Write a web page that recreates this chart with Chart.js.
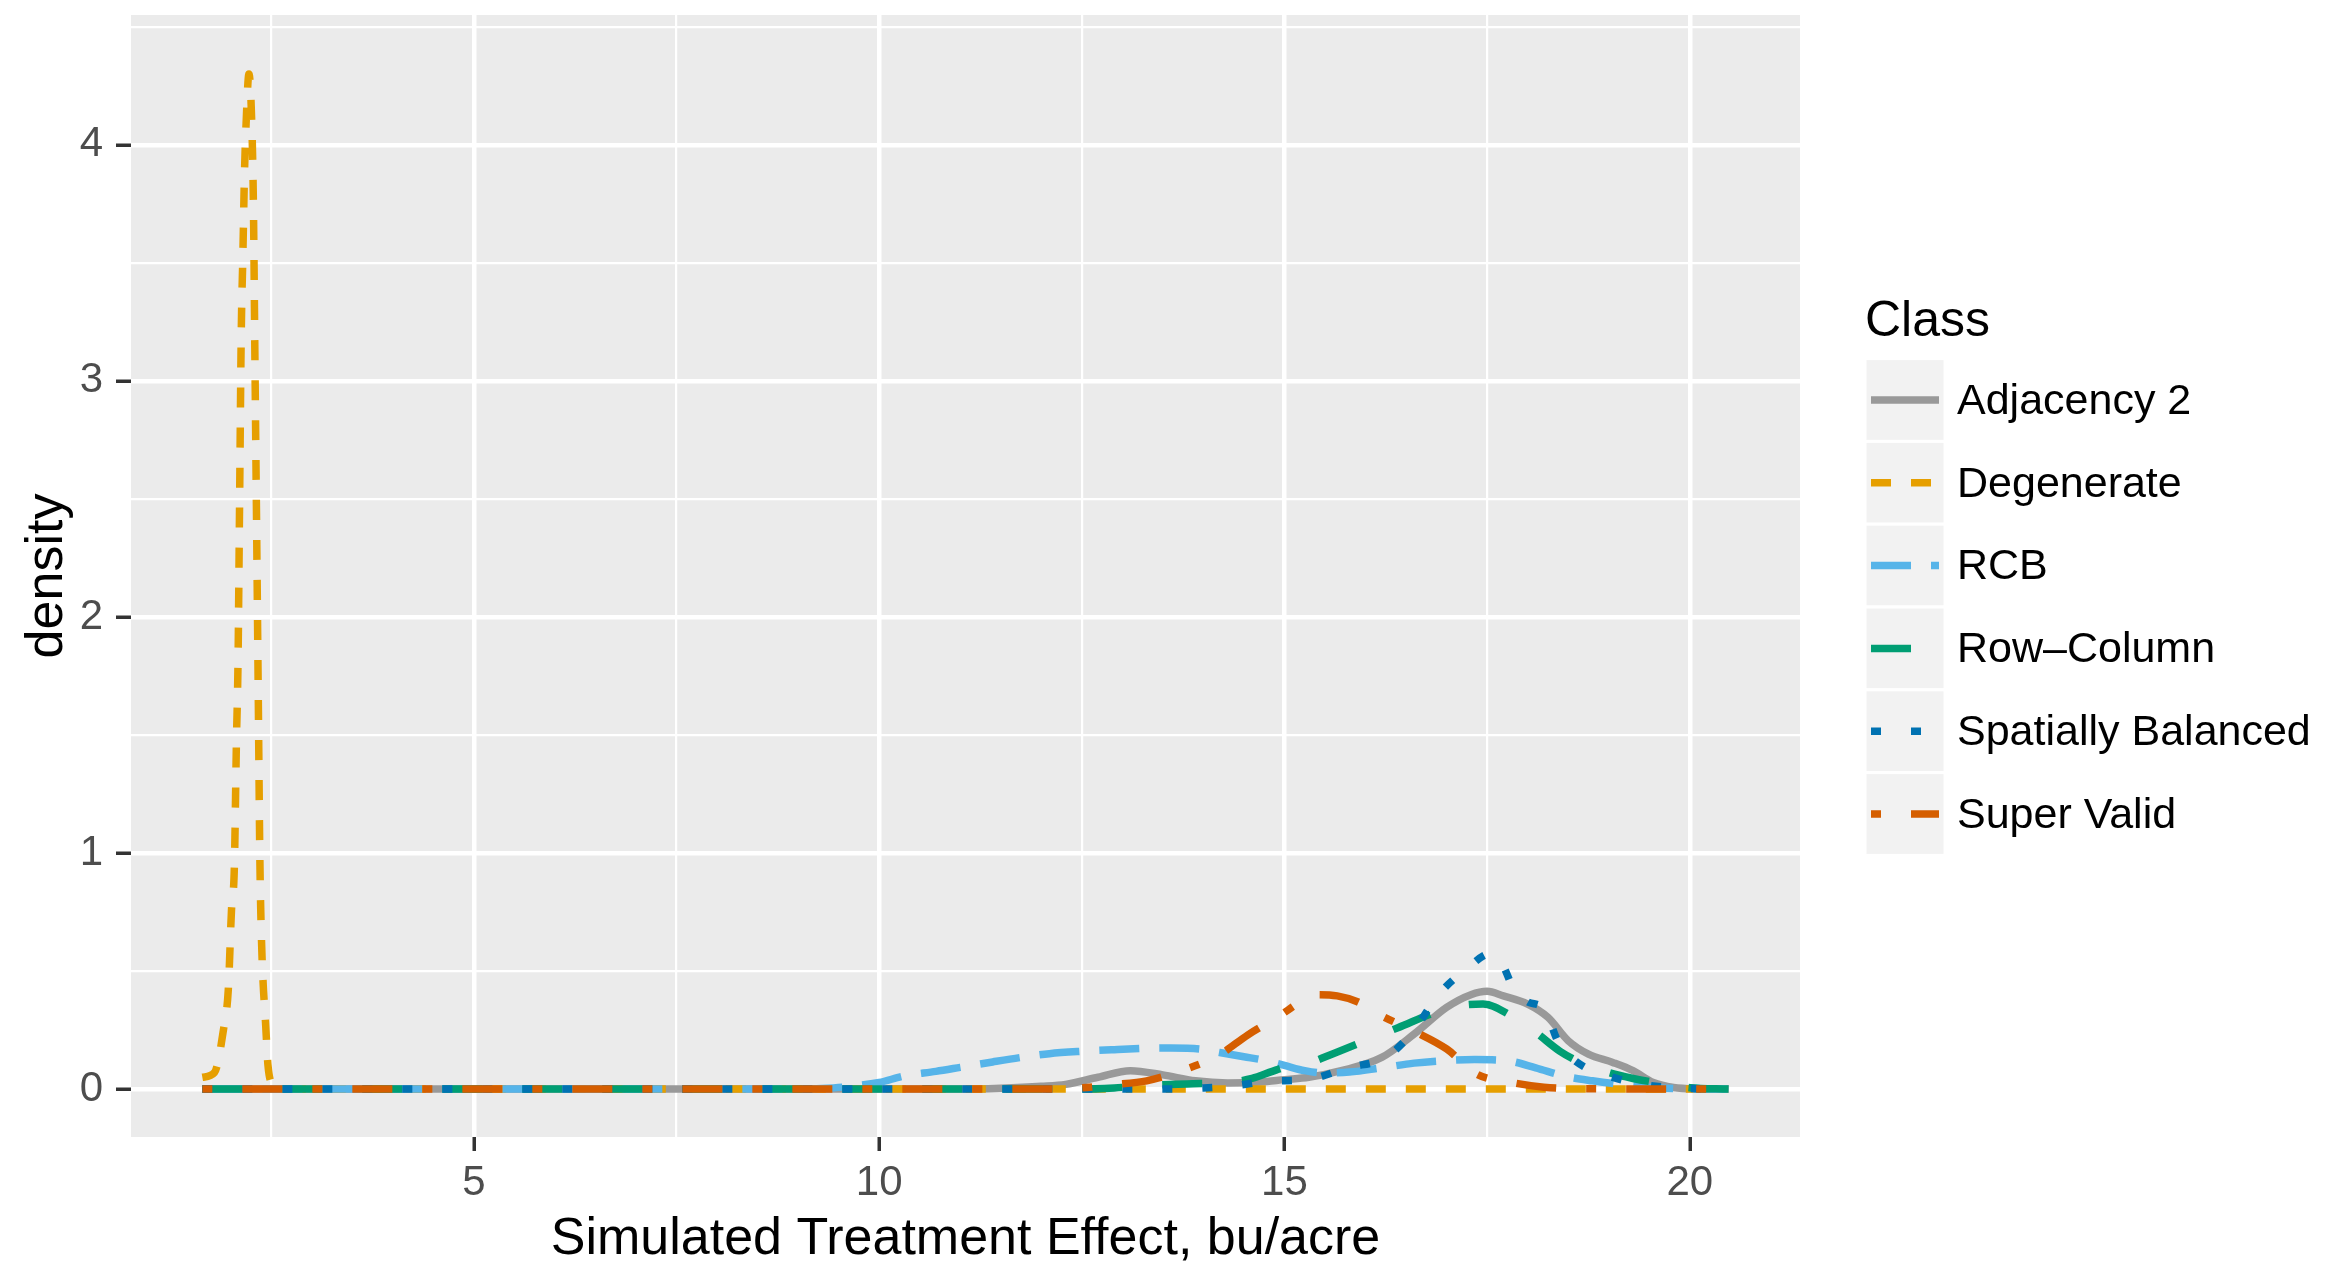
<!DOCTYPE html>
<html>
<head>
<meta charset="utf-8">
<script src="https://cdn.jsdelivr.net/npm/chart.js@4.4.1/dist/chart.umd.min.js"></script>
<style>
  html, body { margin: 0; padding: 0; background: #fff; }
  #wrap { width: 2336px; height: 1262px; }
</style>
</head>
<body>
<div id="wrap"><canvas id="chartDensity" width="2336" height="1262"></canvas></div>
<script>
// series (x = treatment effect, y = density)
const classes = ['Adjacency 2', 'Degenerate', 'RCB', 'Row\u2013Column', 'Spatially Balanced', 'Super Valid'];
const colors = ['#999999', '#E69F00', '#56B4E9', '#009E73', '#0072B2', '#D55E00'];
const dashes = [[], [20, 20], [40, 20], [40, 40], [10, 30], [10, 30, 40, 30]];

const adjX = [1.65, 11.0, 11.5, 12.0, 12.3, 12.7, 13.1, 13.5, 13.9, 14.3, 14.7, 15.0, 15.3, 15.7, 16.2, 16.6, 17.0, 17.3, 17.5, 17.7, 18.0, 18.25, 18.5, 18.75, 19.05, 19.3, 19.55, 19.8, 20.1, 20.48];
const adjY = [0, 0, 0.004, 0.012, 0.02, 0.05, 0.078, 0.06, 0.035, 0.026, 0.03, 0.04, 0.05, 0.078, 0.134, 0.233, 0.346, 0.40, 0.414, 0.395, 0.36, 0.304, 0.205, 0.148, 0.113, 0.078, 0.028, 0.007, 0.001, 0];

const degX = [1.65, 1.8, 1.91, 1.97, 2.01, 2.045, 2.07, 2.09, 2.11, 2.13, 2.15, 2.17, 2.19, 2.225, 2.26, 2.28, 2.30, 2.32, 2.34, 2.36, 2.38, 2.40, 2.43, 2.46, 2.52, 2.65, 20.48];
const degY = [0.05, 0.07, 0.25, 0.42, 0.76, 0.94, 1.46, 1.8, 2.5, 3.2, 3.53, 3.88, 4.09, 4.3, 4.09, 3.75, 3.05, 2.37, 1.67, 0.97, 0.63, 0.45, 0.28, 0.10, 0.02, 0, 0];

const rcbX = [1.65, 9.0, 9.3, 9.6, 10.0, 10.3, 10.7, 11.0, 11.4, 11.75, 12.1, 12.5, 12.9, 13.25, 13.6, 13.95, 14.2, 14.5, 14.75, 15.0, 15.25, 15.5, 15.8, 16.2, 16.6, 16.95, 17.35, 17.75, 18.1, 18.45, 18.8, 19.2, 19.6, 20.0, 20.48];
const rcbY = [0, 0, 0.003, 0.01, 0.028, 0.055, 0.075, 0.092, 0.115, 0.134, 0.15, 0.16, 0.167, 0.172, 0.174, 0.17, 0.155, 0.137, 0.122, 0.10, 0.078, 0.068, 0.072, 0.09, 0.11, 0.12, 0.125, 0.12, 0.09, 0.055, 0.035, 0.018, 0.006, 0.001, 0];

const rcX = [1.65, 12.5, 12.9, 13.3, 13.8, 14.3, 14.6, 14.85, 15.0, 15.3, 15.6, 16.0, 16.4, 16.9, 17.2, 17.45, 17.8, 18.1, 18.4, 18.65, 19.0, 19.3, 19.65, 20.0, 20.48];
const rcY = [0, 0, 0.005, 0.015, 0.022, 0.028, 0.045, 0.075, 0.092, 0.11, 0.15, 0.205, 0.26, 0.33, 0.355, 0.36, 0.31, 0.24, 0.16, 0.113, 0.07, 0.045, 0.024, 0.006, 0];

const sbX = [1.65, 13.5, 14.0, 14.4, 14.8, 15.3, 15.8, 16.25, 16.6, 16.9, 17.25, 17.55, 17.7, 17.82, 18.0, 18.2, 18.39, 18.55, 18.75, 19.0, 19.2, 19.5, 19.9, 20.48];
const sbY = [0, 0, 0.005, 0.015, 0.033, 0.042, 0.092, 0.134, 0.25, 0.40, 0.51, 0.575, 0.52, 0.43, 0.37, 0.34, 0.19, 0.13, 0.085, 0.055, 0.035, 0.015, 0.004, 0];

const svX = [1.65, 12.2, 12.5, 12.87, 13.3, 13.75, 14.18, 14.55, 14.93, 15.2, 15.4, 15.65, 15.9, 16.2, 16.6, 17.0, 17.37, 17.8, 18.2, 18.6, 20.48];
const svY = [0, 0, 0.005, 0.018, 0.035, 0.08, 0.141, 0.23, 0.308, 0.37, 0.40, 0.395, 0.37, 0.31, 0.245, 0.17, 0.064, 0.028, 0.008, 0.002, 0];

const xTicks = [2.5, 5, 7.5, 10, 12.5, 15, 17.5, 20];
const yTicks = [0, 0.5, 1, 1.5, 2, 2.5, 3, 3.5, 4, 4.5];

const seriesX = [adjX, degX, rcbX, rcX, sbX, svX];
const seriesY = [adjY, degY, rcbY, rcY, sbY, svY];

const FONT = '"Liberation Sans", Arial, Helvetica, sans-serif';

const datasets = classes.map((name, i) => ({
  label: name,
  data: seriesX[i].map((x, j) => ({ x: x, y: seriesY[i][j] })),
  borderColor: colors[i],
  borderWidth: 7.5,
  borderDash: dashes[i],
  borderCapStyle: 'butt',
  pointRadius: 0,
  fill: false,
  cubicInterpolationMode: 'monotone',
  order: classes.length - 1 - i
}));

// grey panel like ggplot
const panelBg = {
  id: 'panelBg',
  beforeDraw(chart) {
    const { ctx, chartArea: a } = chart;
    ctx.save();
    ctx.fillStyle = '#ffffff';
    ctx.fillRect(0, 0, chart.width, chart.height);
    ctx.fillStyle = '#EBEBEB';
    ctx.fillRect(a.left, a.top, a.right - a.left, a.bottom - a.top);
    ctx.restore();
  }
};

// legend with grey key boxes
const keyLegend = {
  id: 'keyLegend',
  afterDraw(chart) {
    const ctx = chart.ctx;
    const x0 = 1865, keyW = 80, rowH = 82.8, firstY = 400;
    ctx.save();
    ctx.fillStyle = '#000';
    ctx.font = '50px ' + FONT;
    ctx.textBaseline = 'alphabetic';
    ctx.fillText('Class', x0, 336);
    chart.data.datasets.forEach((ds, i) => {
      const cy = firstY + i * rowH;
      ctx.fillStyle = '#F2F2F2';
      ctx.fillRect(x0, cy - rowH / 2, keyW, rowH);
      ctx.strokeStyle = '#ffffff';
      ctx.lineWidth = 3;
      ctx.setLineDash([]);
      ctx.strokeRect(x0, cy - rowH / 2, keyW, rowH);
      ctx.beginPath();
      ctx.strokeStyle = ds.borderColor;
      ctx.lineWidth = ds.borderWidth;
      ctx.lineCap = 'butt';
      ctx.setLineDash(ds.borderDash);
      ctx.moveTo(x0 + 6, cy);
      ctx.lineTo(x0 + keyW - 6, cy);
      ctx.stroke();
      ctx.setLineDash([]);
      ctx.fillStyle = '#000';
      ctx.font = '43px ' + FONT;
      ctx.textBaseline = 'middle';
      ctx.fillText(ds.label, x0 + 92, cy + 2);
    });
    ctx.restore();
  }
};

const isMajorX = v => v % 5 === 0;
const isMajorY = v => Number.isInteger(v);

new Chart(document.getElementById('chartDensity'), {
  type: 'line',
  data: { datasets: datasets },
  plugins: [panelBg, keyLegend],
  options: {
    responsive: false,
    animation: false,
    layout: { padding: { left: 0, top: 15, right: 536, bottom: 0 } },
    plugins: { legend: { display: false }, tooltip: { enabled: false } },
    scales: {
      x: {
        type: 'linear',
        min: 0.77,
        max: 21.36,
        afterBuildTicks: axis => { axis.ticks = xTicks.map(v => ({ value: v })); },
        afterFit: axis => {
          axis.height = 125;
          axis.paddingLeft = 0;
          axis.paddingRight = 0;
        },
        border: { display: false },
        grid: {
          color: '#ffffff',
          lineWidth: c => isMajorX(c.tick.value) ? 4.5 : 2.2,
          drawTicks: true,
          tickLength: 14,
          tickWidth: 3.5,
          tickColor: c => isMajorX(c.tick.value) ? '#333333' : 'rgba(0,0,0,0)'
        },
        ticks: {
          autoSkip: false,
          maxRotation: 0,
          padding: 7,
          color: '#4D4D4D',
          font: { family: FONT, size: 42 },
          callback: v => isMajorX(v) ? String(v) : ''
        },
        title: {
          display: true,
          text: 'Simulated Treatment Effect, bu/acre',
          color: '#000',
          font: { family: FONT, size: 52, lineHeight: 1 },
          padding: { top: 0, bottom: -4 }
        }
      },
      y: {
        type: 'linear',
        min: -0.203,
        max: 4.55,
        afterBuildTicks: axis => { axis.ticks = yTicks.map(v => ({ value: v })); },
        afterFit: axis => {
          axis.width = 131;
          axis.paddingTop = 0;
          axis.paddingBottom = 0;
        },
        border: { display: false },
        grid: {
          color: '#ffffff',
          lineWidth: c => isMajorY(c.tick.value) ? 4.5 : 2.2,
          drawTicks: true,
          tickLength: 15,
          tickWidth: 3.5,
          tickColor: c => isMajorY(c.tick.value) ? '#333333' : 'rgba(0,0,0,0)'
        },
        ticks: {
          autoSkip: false,
          padding: 13,
          color: '#4D4D4D',
          font: { family: FONT, size: 42 },
          callback: v => isMajorY(v) ? String(v) : ''
        },
        title: {
          display: true,
          text: 'density',
          color: '#000',
          font: { family: FONT, size: 52, lineHeight: 1 },
          padding: { top: 22, bottom: 0 }
        }
      }
    }
  }
});
</script>
</body>
</html>
